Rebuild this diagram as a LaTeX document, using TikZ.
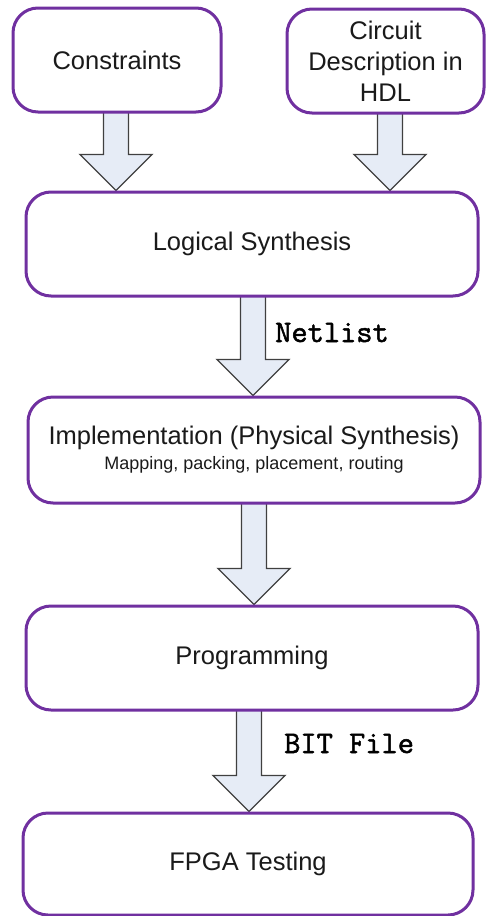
\documentclass[tikz,border=0pt]{standalone}
\usepackage{fontspec}
\setmainfont{Liberation Sans}
\newfontfamily\labelfont[FakeBold=1.6]{Latin Modern Mono}
\usetikzlibrary{backgrounds,calc}

\definecolor{boxpurple}{HTML}{7030A0}
\definecolor{arrowfill}{HTML}{E6ECF6}
\definecolor{arrowline}{HTML}{404040}
\definecolor{textgray}{HTML}{1A1A1A}

% Block arrow from the bottom of one box to the top of the next,
% centred on the given x position (in pt).
\newcommand{\flowarrow}[3]{%
  \path[blockarrow] let \p1=(#1.south), \p2=(#2.north) in
    (#3pt-12.5pt,\y1+2pt) -- (#3pt+12.5pt,\y1+2pt) --
    (#3pt+12.5pt,\y2+36pt) -- (#3pt+36pt,\y2+36pt) --
    (#3pt,\y2) --
    (#3pt-36pt,\y2+36pt) -- (#3pt-12.5pt,\y2+36pt) -- cycle;}

\begin{document}
\begin{tikzpicture}[x=1pt,y=-1pt,
  stepbox/.style={draw=boxpurple, line width=3pt, rounded corners=25pt,
    fill=white, text=textgray, align=center, inner sep=0pt,
    font=\fontsize{25.5}{31}\selectfont},
  blockarrow/.style={draw=arrowline, fill=arrowfill, line width=1.3pt,
    line join=miter},
  flowlabel/.style={anchor=base west, inner sep=0pt, text=black,
    font=\labelfont\fontsize{31.5}{32}\selectfont}]
\useasboundingbox (0,0) rectangle (486,916);

% process steps
\node[stepbox, minimum width=208, minimum height=104] (cons) at (117,60) {Constraints};
\node[stepbox, minimum width=197, minimum height=104] (hdl) at (385.5,61)
  {Circuit\\Description in\\HDL};
\node[stepbox, minimum width=452, minimum height=104] (logic) at (252,244) {Logical Synthesis};
\node[stepbox, minimum width=452, minimum height=106] (impl) at (254,450)
  {Implementation (Physical Synthesis)\\[-6pt]
   {\fontsize{18}{20}\selectfont Mapping, packing, placement, routing}};
\node[stepbox, minimum width=452, minimum height=104] (prog) at (252,658) {Programming};
\node[stepbox, minimum width=450, minimum height=102] (fpga) at (248,864) {FPGA Testing};

% flow between the steps
\begin{pgfonlayer}{background}
  \flowarrow{cons}{logic}{116}
  \flowarrow{hdl}{logic}{390}
  \flowarrow{logic}{impl}{253}
  \flowarrow{impl}{prog}{254}
  \flowarrow{prog}{fpga}{249}
\end{pgfonlayer}

% data passed along the flow
\node[flowlabel] (netlist) at (275,342) {Netlist};
\node[flowlabel] (bitfile) at (284,753) {BIT File};
\end{tikzpicture}
\end{document}
